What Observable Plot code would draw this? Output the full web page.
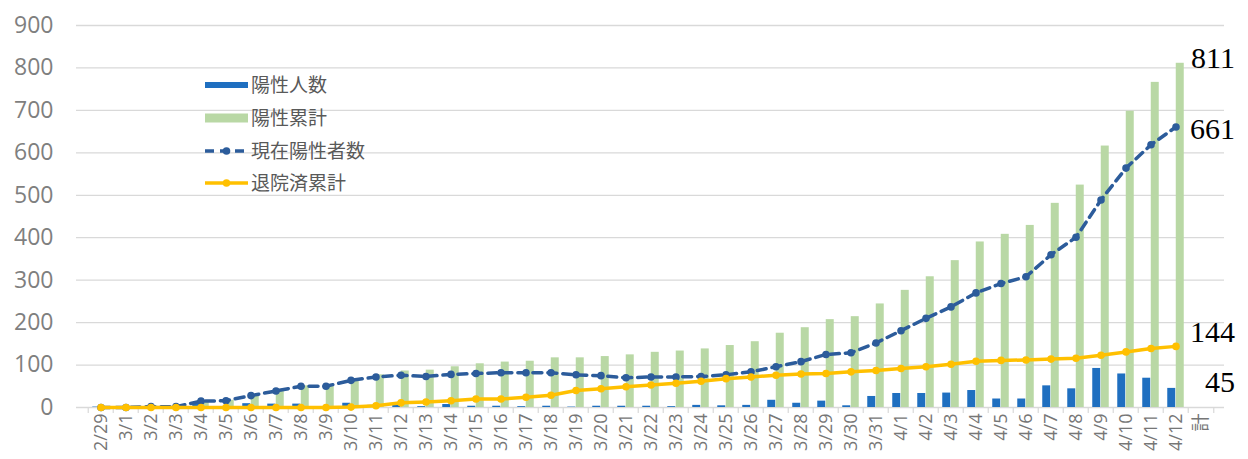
<!DOCTYPE html>
<html>
<head>
<meta charset="utf-8">
<script src="https://cdn.jsdelivr.net/npm/d3@7"></script>
<script src="https://cdn.jsdelivr.net/npm/@observablehq/plot@0.6"></script>
<style>
  html, body { margin: 0; padding: 0; background: #fff; }
  #chart svg { display: block; }
</style>
</head>
<body>
<div id="chart"></div>
<script>
const dates = ["2/29",
  "3/1","3/2","3/3","3/4","3/5","3/6","3/7","3/8","3/9","3/10",
  "3/11","3/12","3/13","3/14","3/15","3/16","3/17","3/18","3/19","3/20",
  "3/21","3/22","3/23","3/24","3/25","3/26","3/27","3/28","3/29","3/30","3/31",
  "4/1","4/2","4/3","4/4","4/5","4/6","4/7","4/8","4/9","4/10","4/11","4/12",
  "計"];

// 陽性人数 (daily positives)
const daily = [1,0,2,0,10,1,9,8,8,1,
  10,5,6,2,7,3,3,2,3,1,
  3,3,3,2,5,4,5,17,10,15,
  4,26,
  33,33,34,40,20,20,51,44,92,79,69,45];

// 陽性累計 (cumulative positives)
const cumulative = [1,1,3,3,16,17,29,40,51,52,
  67,77,86,88,96,103,107,109,117,117,
  120,124,130,133,138,146,155,175,188,207,
  214,244,
  276,308,346,390,408,429,481,524,616,698,766,811];

// 現在陽性者数 (currently positive)
const active = [0,0,2,2,15,16,28,39,50,50,
  64,72,76,73,78,80,82,82,82,77,
  75,70,72,72,73,77,84,96,108,125,
  129,152,
  181,210,237,270,292,308,360,401,489,564,619,661];

// 退院済累計 (cumulative discharged)
const discharged = [0,0,0,0,0,0,0,0,0,0,
  1,4,11,13,16,20,20,24,29,40,
  44,49,53,57,62,68,72,76,79,80,
  84,87,
  92,96,102,109,111,112,114,116,123,131,139,144];

const seriesNames = ["陽性人数", "陽性累計", "現在陽性者数", "退院済累計"];
const yTicks = [0,100,200,300,400,500,600,700,800,900];

const colors = {
  daily: "#1f6fc0",
  cumulative: "#b9d8a5",
  active: "#2c5c9b",
  discharged: "#ffc000"
};

const rows = dates.slice(0, daily.length).map((d, i) => ({
  date: d,
  daily: daily[i],
  cumulative: cumulative[i],
  active: active[i],
  discharged: discharged[i]
}));
const last = rows[rows.length - 1];

const W = 1248, H = 459, ML = 76, MR = 24, MT = 25, MB = 52;
const step = (W - ML - MR) / dates.length;
const serif = "'Liberation Serif', serif";

const plot = Plot.plot({
  width: W,
  height: H,
  marginLeft: ML,
  marginRight: MR,
  marginTop: MT,
  marginBottom: MB,
  style: { fontFamily: "'Open Sans', 'Noto Sans CJK JP', sans-serif", background: "#fff" },
  x: { type: "band", domain: dates, padding: 0, label: null },
  y: { domain: [0, 900], label: null },
  marks: [
    Plot.gridY(yTicks, { stroke: "#d9d9d9", strokeOpacity: 1, strokeWidth: 1.3 }),
    Plot.ruleX(dates, { x: d => d, dx: -step / 2, stroke: "#d9d9d9", strokeWidth: 1.2, insetTop: H - MT - MB, insetBottom: -6 }),
    Plot.ruleX([dates[dates.length - 1]], { x: d => d, dx: step / 2, stroke: "#d9d9d9", strokeWidth: 1.2, insetTop: H - MT - MB, insetBottom: -6 }),
    Plot.barY(rows, { x: "date", y: "daily", fill: colors.daily, insetLeft: step / 2 - 8.5, insetRight: step / 2 }),
    Plot.barY(rows, { x: "date", y: "cumulative", fill: colors.cumulative, insetLeft: step / 2, insetRight: step / 2 - 8.5 }),
    Plot.line(rows, { x: "date", y: "active", stroke: colors.active, strokeWidth: 3.5, strokeDasharray: "9,6" }),
    Plot.dot(rows, { x: "date", y: "active", r: 3.8, fill: colors.active }),
    Plot.line(rows, { x: "date", y: "discharged", stroke: colors.discharged, strokeWidth: 3.5 }),
    Plot.dot(rows, { x: "date", y: "discharged", r: 3.8, fill: colors.discharged }),
    Plot.axisY(yTicks, { tickSize: 0, tickPadding: 23, fontSize: 23, fill: "#7f7f7f", label: null }),
    Plot.axisX({ tickRotate: -90, tickSize: 0, tickPadding: 6, fontSize: 18, fill: "#767676", label: null }),
    Plot.text([last], { x: "date", y: "cumulative", text: d => String(d.cumulative), textAnchor: "end", dx: 59, dy: -5, fontSize: 30, fontFamily: serif, fill: "#000" }),
    Plot.text([last], { x: "date", y: "active", text: d => String(d.active), textAnchor: "end", dx: 59, dy: 2, fontSize: 30, fontFamily: serif, fill: "#000" }),
    Plot.text([last], { x: "date", y: "discharged", text: d => String(d.discharged), textAnchor: "end", dx: 59, dy: -14, fontSize: 30, fontFamily: serif, fill: "#000" }),
    Plot.text([last], { x: "date", y: "daily", text: d => String(d.daily), textAnchor: "end", dx: 59, dy: -6, fontSize: 30, fontFamily: serif, fill: "#000" })
  ]
});

document.getElementById("chart").appendChild(plot);

// Legend (inside plot area, top-left)
const svg = d3.select(plot);
const lg = svg.append("g").attr("class", "legend").attr("text-anchor", "start");
const lx0 = 205, lx1 = 248, rowY = [85, 118, 151, 183];
const items = [
  { name: seriesNames[0], kind: "bar", color: colors.daily, h: 6 },
  { name: seriesNames[1], kind: "bar", color: colors.cumulative, h: 9 },
  { name: seriesNames[2], kind: "dash", color: colors.active },
  { name: seriesNames[3], kind: "line", color: colors.discharged }
];
items.forEach((it, i) => {
  const y = rowY[i];
  if (it.kind === "bar") {
    lg.append("rect").attr("x", lx0).attr("y", y - it.h / 2).attr("width", lx1 - lx0).attr("height", it.h).attr("fill", it.color);
  } else {
    lg.append("line").attr("x1", lx0).attr("x2", lx1).attr("y1", y).attr("y2", y)
      .attr("stroke", it.color).attr("stroke-width", 3.5)
      .attr("stroke-dasharray", it.kind === "dash" ? "9,6" : null);
    lg.append("circle").attr("cx", (lx0 + lx1) / 2).attr("cy", y).attr("r", 3.8).attr("fill", it.color);
  }
  lg.append("text").attr("x", lx1 + 3).attr("y", y).attr("dy", "0.35em")
    .attr("text-anchor", "start")
    .attr("font-family", "'Noto Sans CJK JP', sans-serif").attr("font-size", 19)
    .attr("fill", "#595959").text(it.name);
});
</script>
</body>
</html>
